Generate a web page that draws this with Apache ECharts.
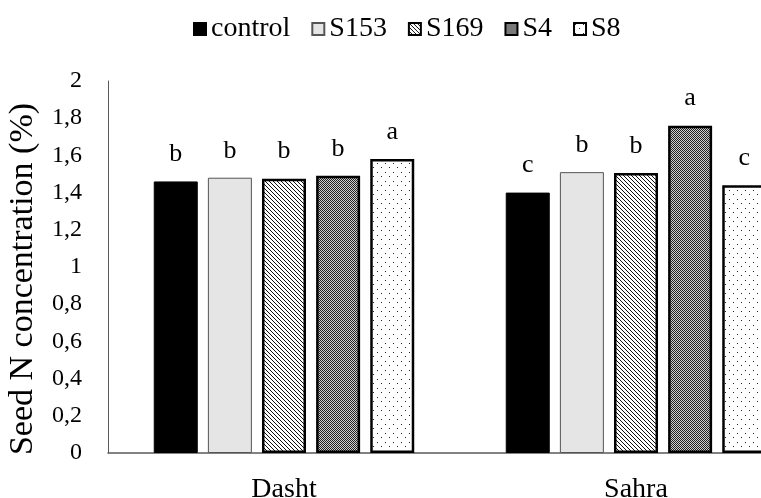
<!DOCTYPE html>
<html>
<head>
<meta charset="utf-8">
<script src="https://cdn.jsdelivr.net/npm/echarts@6/dist/echarts.min.js"></script>
<style>html,body{margin:0;padding:0;background:#fff;}#chart{width:761px;height:498px;}</style>
</head>
<body>
<div id="chart"></div>
<script>
var categories = ['Dasht', 'Sahra'];
var seriesNames = ['control', 'S153', 'S169', 'S4', 'S8'];
var controlValues = [1.46, 1.40];
var s153Values = [1.48, 1.51];
var s169Values = [1.475, 1.505];
var s4Values = [1.49, 1.76];
var s8Values = [1.58, 1.44];
var controlLetters = ['b', 'c'];
var s153Letters = ['b', 'b'];
var s169Letters = ['b', 'b'];
var s4Letters = ['b', 'a'];
var s8Letters = ['a', 'c'];
var yTickLabels = ['0', '0,2', '0,4', '0,6', '0,8', '1', '1,2', '1,4', '1,6', '1,8', '2'];

function makeCanvas(w, h, draw) {
  var c = document.createElement('canvas');
  c.width = w; c.height = h;
  var ctx = c.getContext('2d');
  draw(ctx, w, h);
  return c;
}
var hatch = makeCanvas(4, 4, function (ctx, w, h) {
  ctx.fillStyle = '#fff'; ctx.fillRect(0, 0, w, h);
  ctx.fillStyle = '#111';
  for (var i = 0; i < 4; i++) { ctx.fillRect(i, i, 1, 1); }
});
var checker = makeCanvas(2, 2, function (ctx, w, h) {
  ctx.fillStyle = '#d0d0d0'; ctx.fillRect(0, 0, w, h);
  ctx.fillStyle = '#222';
  ctx.fillRect(0, 0, 1, 1); ctx.fillRect(1, 1, 1, 1);
});
var dots = makeCanvas(8, 9, function (ctx, w, h) {
  ctx.fillStyle = '#fff'; ctx.fillRect(0, 0, w, h);
  ctx.fillStyle = '#222';
  ctx.fillRect(1, 1, 1, 1); ctx.fillRect(5, 5, 1, 1);
});

var FONT = 'Liberation Serif';
var valuesList = [controlValues, s153Values, s169Values, s4Values, s8Values];
var lettersList = [controlLetters, s153Letters, s169Letters, s4Letters, s8Letters];
var styles = [
  { color: '#000', borderColor: '#000', borderWidth: 1 },
  { color: '#e5e5e5', borderColor: '#555', borderWidth: 1 },
  { color: { image: hatch, repeat: 'repeat' }, borderColor: '#000', borderWidth: 2.5 },
  { color: { image: checker, repeat: 'repeat' }, borderColor: '#000', borderWidth: 2.5 },
  { color: { image: dots, repeat: 'repeat' }, borderColor: '#000', borderWidth: 2.5 }
];

var series = seriesNames.map(function (name, i) {
  var letters = lettersList[i];
  return {
    name: name,
    type: 'bar',
    data: valuesList[i],
    barWidth: 44,
    barGap: '23%',
    itemStyle: styles[i],
    label: {
      show: true,
      position: 'top',
      distance: 14,
      fontFamily: FONT,
      fontSize: 26,
      color: '#000',
      formatter: function (p) { return letters[p.dataIndex]; }
    }
  };
});

var chart = echarts.init(document.getElementById('chart'), null, { renderer: 'canvas' });
chart.setOption({
  animation: false,
  backgroundColor: '#fff',
  textStyle: { fontFamily: FONT },
  legend: {
    left: 188,
    top: 10,
    itemWidth: 12,
    itemHeight: 12,
    itemGap: 21,
    icon: 'rect',
    textStyle: { fontFamily: FONT, fontSize: 28, color: '#000' },
    data: seriesNames
  },
  grid: { left: 108, width: 704, top: 81, bottom: 45, containLabel: false, outerBoundsMode: 'none' },
  xAxis: {
    type: 'category',
    data: categories,
    axisTick: { show: false },
    axisLine: { lineStyle: { color: '#595959', width: 1.5 } },
    axisLabel: { fontFamily: FONT, fontSize: 28, color: '#000', margin: 23 }
  },
  yAxis: {
    type: 'value',
    min: 0,
    max: 2,
    interval: 0.2,
    name: 'Seed N concentration (%)',
    nameLocation: 'middle',
    nameGap: 68,
    nameTextStyle: { fontFamily: FONT, fontSize: 34, color: '#000', padding: [0, 24, 0, 0] },
    splitLine: { show: false },
    axisTick: { show: false },
    axisLine: { show: true, lineStyle: { color: '#595959', width: 1 } },
    axisLabel: {
      fontFamily: FONT, fontSize: 24, color: '#000', margin: 26,
      formatter: function (v) { return yTickLabels[Math.round(v / 0.2)]; }
    }
  },
  series: series
});
</script>
</body>
</html>
